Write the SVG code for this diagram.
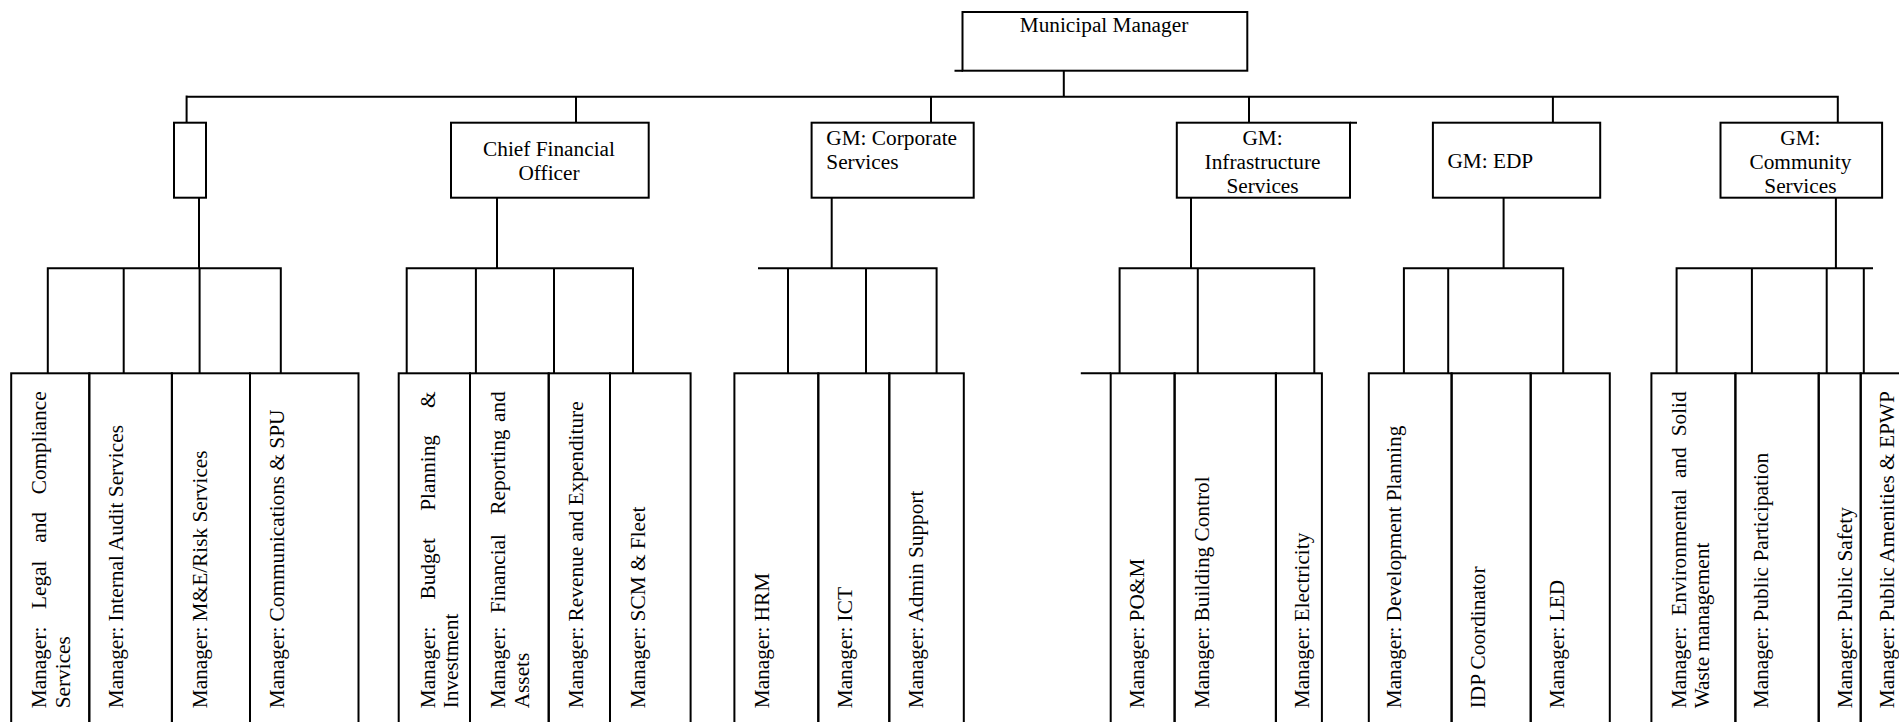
<svg xmlns="http://www.w3.org/2000/svg" width="1899" height="722" viewBox="0 0 1899 722">
<style>
.b{fill:none;stroke:#000;stroke-width:2}
.c{fill:none;stroke:#000;stroke-width:2}
.t{font-family:"Liberation Serif","Times New Roman",serif;font-size:21.3px;fill:#000}
.m{text-anchor:middle}
</style>
<rect x="0" y="0" width="1899" height="722" fill="#fff"/>
<g id="connectors">
<path class="c" d="M186.6,96.7 H1837.8 V122.7 M186.6,95.5 V122.7"/>
<path class="c" d="M1063.8,70.7 V96.7 M576,96.7 V122.7 M931,96.7 V122.7 M1249,96.7 V122.7 M1552.9,96.7 V122.7"/>
<path class="c" d="M954.5,70.7 H963 M1350,122.7 H1357"/>
<path class="c" d="M199,197.7 V268.3 M47.8,373.3 V268.3 H280.8 V373.3 M123.7,268.3 V373.3 M199.6,268.3 V373.3"/>
<path class="c" d="M497,197.7 V268.3 M406.7,373.3 V268.3 H633 V373.3 M475.9,268.3 V373.3 M554,268.3 V373.3"/>
<path class="c" d="M831.7,197.7 V268.3 M758,268.3 H936.6 V373.3 M788,268.3 V373.3 M866,268.3 V373.3"/>
<path class="c" d="M1191,197.7 V268.3 M1119.6,373.3 V268.3 H1314.3 V373.3 M1197.8,268.3 V373.3 M1080.8,373.3 H1111"/>
<path class="c" d="M1503.6,197.7 V268.3 M1403.9,373.3 V268.3 H1563.2 V373.3 M1448.2,268.3 V373.3"/>
<path class="c" d="M1835.9,197.7 V268.3 M1676.6,373.3 V268.3 H1873 M1751.9,268.3 V373.3 M1826.7,268.3 V373.3 M1863.8,268.3 V373.3"/>
</g>
<g id="mm"><rect class="b" x="962.5" y="12" width="284.8" height="58.7"/><text class="t m" x="1104" y="32">Municipal Manager</text></g>
<g id="office"><rect class="b" x="174" y="122.7" width="32" height="75"/></g>
<g id="cfo"><rect class="b" x="451" y="122.7" width="197.7" height="75"/><text class="t m" x="549" y="155.7">Chief Financial</text><text class="t m" x="549" y="180">Officer</text></g>
<g id="corporate"><rect class="b" x="811.6" y="122.7" width="162.1" height="75"/><text class="t" x="826.3" y="144.7">GM: Corporate</text><text class="t" x="826.3" y="168.7">Services</text></g>
<g id="infra"><rect class="b" x="1176.8" y="122.7" width="173.2" height="75"/><text class="t m" x="1262.5" y="144.7">GM:</text><text class="t m" x="1262.5" y="168.7">Infrastructure</text><text class="t m" x="1262.5" y="192.5">Services</text></g>
<g id="edp"><rect class="b" x="1432.9" y="122.7" width="167.3" height="75"/><text class="t" x="1447.4" y="168">GM: EDP</text></g>
<g id="community"><rect class="b" x="1720.5" y="122.7" width="161.6" height="75"/><text class="t m" x="1800.4" y="144.5">GM:</text><text class="t m" x="1800.4" y="168.5">Community</text><text class="t m" x="1800.4" y="192.5">Services</text></g>

<g id="legal"><rect class="b" x="11.2" y="373.3" width="78.1" height="360"/>
<text class="t" transform="translate(46,708.3) rotate(-90)"><tspan x="0">Manager:</tspan><tspan x="99.3">Legal</tspan><tspan x="165.5">and</tspan><tspan x="214">Compliance</tspan></text>
<text class="t" transform="translate(69.5,708.3) rotate(-90)">Services</text></g>
<g id="audit"><rect class="b" x="89.3" y="373.3" width="82.6" height="360"/><text class="t" transform="translate(123,708.3) rotate(-90)">Manager: Internal Audit Services</text></g>
<g id="me"><rect class="b" x="171.9" y="373.3" width="78.1" height="360"/><text class="t" transform="translate(206.7,708.3) rotate(-90)">Manager: M&amp;E/Risk Services</text></g>
<g id="comms"><rect class="b" x="250" y="373.3" width="108.5" height="360"/><text class="t" transform="translate(284,708.3) rotate(-90)">Manager: Communications &amp; SPU</text></g>

<g id="budget"><rect class="b" x="398.7" y="373.3" width="71.3" height="360"/>
<text class="t" transform="translate(435,708.3) rotate(-90)"><tspan x="0">Manager:</tspan><tspan x="108.8">Budget</tspan><tspan x="197.5">Planning</tspan><tspan x="300.4">&amp;</tspan></text>
<text class="t" transform="translate(458,708.3) rotate(-90)">Investment</text></g>
<g id="finrep"><rect class="b" x="470" y="373.3" width="78.7" height="360"/>
<text class="t" transform="translate(504.5,708.3) rotate(-90)"><tspan x="0">Manager:</tspan><tspan x="95">Financial</tspan><tspan x="193.6">Reporting</tspan><tspan x="286.2">and</tspan></text>
<text class="t" transform="translate(528.5,708.3) rotate(-90)">Assets</text></g>
<g id="revenue"><rect class="b" x="548.7" y="373.3" width="61.3" height="360"/><text class="t" transform="translate(582.6,708.3) rotate(-90)">Manager: Revenue and Expenditure</text></g>
<g id="scm"><rect class="b" x="610" y="373.3" width="80.6" height="360"/><text class="t" transform="translate(645,708.3) rotate(-90)">Manager: SCM &amp; Fleet</text></g>

<g id="hrm"><rect class="b" x="734.4" y="373.3" width="83.9" height="360"/><text class="t" transform="translate(769.2,708.3) rotate(-90)">Manager: HRM</text></g>
<g id="ict"><rect class="b" x="818.3" y="373.3" width="71" height="360"/><text class="t" transform="translate(851.8,708.3) rotate(-90)">Manager: ICT</text></g>
<g id="admin"><rect class="b" x="889.3" y="373.3" width="74.5" height="360"/><text class="t" transform="translate(923.2,708.3) rotate(-90)">Manager: Admin Support</text></g>

<g id="pom"><rect class="b" x="1110.7" y="373.3" width="63.9" height="360"/><text class="t" transform="translate(1144.2,708.3) rotate(-90)">Manager: PO&amp;M</text></g>
<g id="building"><rect class="b" x="1174.6" y="373.3" width="101.3" height="360"/><text class="t" transform="translate(1208.9,708.3) rotate(-90)">Manager: Building Control</text></g>
<g id="electricity"><rect class="b" x="1275.9" y="373.3" width="46" height="360"/><text class="t" transform="translate(1309.4,708.3) rotate(-90)">Manager: Electricity</text></g>

<g id="devplan"><rect class="b" x="1368.8" y="373.3" width="82.8" height="360"/><text class="t" transform="translate(1401.2,708.3) rotate(-90)">Manager: Development Planning</text></g>
<g id="idp"><rect class="b" x="1451.6" y="373.3" width="79.1" height="360"/><text class="t" transform="translate(1485.3,708.3) rotate(-90)">IDP Coordinator</text></g>
<g id="led"><rect class="b" x="1530.7" y="373.3" width="79.1" height="360"/><text class="t" transform="translate(1563.6,708.3) rotate(-90)">Manager: LED</text></g>

<g id="environment"><rect class="b" x="1651.4" y="373.3" width="84" height="360"/>
<text class="t" transform="translate(1685.8,708.3) rotate(-90)"><tspan x="0">Manager:</tspan><tspan x="92.6">Environmental</tspan><tspan x="230.2">and</tspan><tspan x="272">Solid</tspan></text>
<text class="t" transform="translate(1708.7,708.3) rotate(-90)">Waste management</text></g>
<g id="participation"><rect class="b" x="1735.4" y="373.3" width="83.3" height="360"/><text class="t" transform="translate(1768,708.3) rotate(-90)">Manager: Public Participation</text></g>
<g id="safety"><rect class="b" x="1818.7" y="373.3" width="42" height="360"/><text class="t" transform="translate(1852,708.3) rotate(-90)">Manager: Public Safety</text></g>
<g id="amenities"><rect class="b" x="1860.7" y="373.3" width="60" height="360"/><text class="t" transform="translate(1894,708.3) rotate(-90)">Manager: Public Amenities &amp; EPWP</text></g>
</svg>
